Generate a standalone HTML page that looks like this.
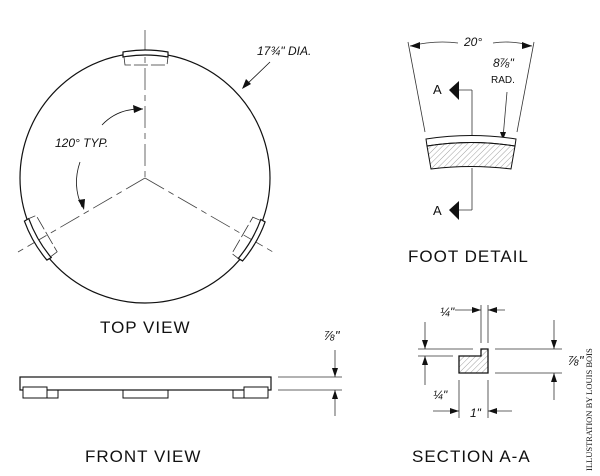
<!DOCTYPE html>
<html><head><style>
html,body{margin:0;padding:0;background:#fff;}
svg{display:block;}
text{font-family:"Liberation Sans",sans-serif;fill:#111;}
</style></head><body>
<svg width="600" height="476" viewBox="0 0 600 476" xmlns="http://www.w3.org/2000/svg">
<defs>
<pattern id="h" width="4" height="4" patternUnits="userSpaceOnUse" patternTransform="rotate(45)">
<line x1="0" y1="0" x2="0" y2="4" stroke="#888" stroke-width="0.8"/></pattern>
<g id="foot">
<path d="M123,52 Q145,48 168,52 L168,57 Q145,53 123,57 Z" fill="#fff" stroke="#111" stroke-width="1.2"/>
<path d="M124,57 L125,65 L167,65 L168,57" fill="none" stroke="#333" stroke-width="0.8" stroke-dasharray="14,3"/>
</g>
</defs>
<!-- Top view -->
<circle cx="145" cy="178" r="125" fill="none" stroke="#111" stroke-width="1.2"/>
<g stroke="#444" stroke-width="0.8" fill="none" stroke-dasharray="22,5,6,5">
<line x1="145" y1="30" x2="145" y2="178"/>
<line x1="145" y1="178" x2="18" y2="252"/>
<line x1="145" y1="178" x2="273" y2="252"/>
</g>
<use href="#foot"/>
<use href="#foot" transform="rotate(120 145 178)"/>
<use href="#foot" transform="rotate(-120 145 178)"/>
<path d="M102,125 Q118,108 143,109" fill="none" stroke="#111" stroke-width="0.8"/>
<polygon points="143,109 133,105 134,113" fill="#111"/>
<path d="M80,162 Q72,185 82,207" fill="none" stroke="#111" stroke-width="0.8"/>
<polygon points="84,210 78,200 85,199" fill="#111"/>
<text x="55" y="147" font-size="12" font-style="italic">120° TYP.</text>
<line x1="270" y1="62" x2="244" y2="87" stroke="#111" stroke-width="0.8"/>
<polygon points="242,89 246,79 251,84" fill="#111"/>
<text x="257" y="55" font-size="12" font-style="italic">17¾" DIA.</text>
<text x="100" y="333" font-size="17" letter-spacing="1">TOP VIEW</text>
<!-- Front view -->
<rect x="20" y="377" width="251" height="13" fill="none" stroke="#111" stroke-width="1.2"/>
<g fill="none" stroke="#111" stroke-width="1">
<rect x="23" y="387" width="24" height="11" fill="#fff"/><line x1="47" y1="387" x2="47" y2="398"/><rect x="47" y="390" width="11" height="8"/>
<rect x="244" y="387" width="24" height="11" fill="#fff"/><rect x="233" y="390" width="11" height="8"/>
<rect x="123" y="390" width="45" height="8"/>
</g>
<g stroke="#333" stroke-width="0.8">
<line x1="278" y1="377" x2="342" y2="377"/><line x1="278" y1="390" x2="342" y2="390"/>
<line x1="335" y1="350" x2="335" y2="377"/><line x1="335" y1="390" x2="335" y2="416"/>
</g>
<polygon points="335,377 332,368 338,368" fill="#111"/><polygon points="335,390 332,399 338,399" fill="#111"/>
<text x="324" y="340" font-size="13" font-style="italic">⅞"</text>
<text x="85" y="462" font-size="17" letter-spacing="1">FRONT VIEW</text>
<!-- Foot detail -->
<g stroke="#333" stroke-width="0.8" fill="none">
<line x1="408" y1="42" x2="425" y2="132"/><line x1="534" y1="42" x2="517" y2="132"/>
<path d="M410,46 Q435,40 458,43"/><path d="M493,43 Q512,40 532,46"/>
<line x1="472" y1="90" x2="472" y2="138"/><line x1="472" y1="168" x2="472" y2="210"/>
<line x1="454" y1="90" x2="472" y2="90"/><line x1="454" y1="210" x2="472" y2="210"/>
<line x1="507" y1="92" x2="503" y2="138"/>
</g>
<polygon points="410,46 420,42 420,49" fill="#111"/><polygon points="532,46 522,42 522,49" fill="#111"/>
<polygon points="449,90 459,81 459,100" fill="#111"/><polygon points="449,210 459,201 459,220" fill="#111"/>
<polygon points="503,140 500,132 506,132" fill="#111"/>
<path d="M426,139 Q471,132 516,139 L515,146 Q471,139 427,146 Z" fill="#fff" stroke="#111" stroke-width="1"/>
<path d="M427,146 Q471,139 515,146 L511,169 Q471,164 431,169 Z" fill="url(#h)" stroke="#111" stroke-width="1"/>
<text x="464" y="46" font-size="12" font-style="italic">20°</text>
<text x="433" y="94" font-size="13">A</text><text x="433" y="215" font-size="13">A</text>
<text x="493" y="67" font-size="12" font-style="italic">8⅞"</text>
<text x="491" y="83" font-size="10">RAD.</text>
<text x="408" y="262" font-size="17" letter-spacing="1">FOOT DETAIL</text>
<!-- Section A-A -->
<path d="M459,356 L481,356 L481,349 L488,349 L488,373 L459,373 Z" fill="url(#h)" stroke="#111" stroke-width="1.3"/>
<g stroke="#333" stroke-width="0.8">
<line x1="481" y1="305" x2="481" y2="343"/><line x1="488" y1="305" x2="488" y2="343"/>
<line x1="455" y1="310" x2="481" y2="310"/><line x1="488" y1="310" x2="505" y2="310"/>
<line x1="418" y1="349" x2="473" y2="349"/><line x1="418" y1="356" x2="453" y2="356"/>
<line x1="425" y1="322" x2="425" y2="349"/><line x1="425" y1="356" x2="425" y2="385"/>
<line x1="495" y1="349" x2="562" y2="349"/><line x1="495" y1="373" x2="562" y2="373"/>
<line x1="554" y1="320" x2="554" y2="349"/><line x1="554" y1="373" x2="554" y2="400"/>
<line x1="459" y1="380" x2="459" y2="418"/><line x1="488" y1="380" x2="488" y2="418"/>
<line x1="433" y1="411" x2="459" y2="411"/><line x1="488" y1="411" x2="512" y2="411"/>
</g>
<g fill="#111">
<polygon points="481,310 472,307 472,313"/><polygon points="488,310 497,307 497,313"/>
<polygon points="425,349 422,340 428,340"/><polygon points="425,356 422,365 428,365"/>
<polygon points="554,349 551,340 557,340"/><polygon points="554,373 551,382 557,382"/>
<polygon points="459,411 450,408 450,414"/><polygon points="488,411 497,408 497,414"/>
</g>
<text x="440" y="316" font-size="12" font-style="italic">¼"</text>
<text x="433" y="399" font-size="12" font-style="italic">¼"</text>
<text x="568" y="365" font-size="13" font-style="italic">⅞"</text>
<text x="470" y="417" font-size="12" font-style="italic">1"</text>
<text x="412" y="462" font-size="17" letter-spacing="1">SECTION A-A</text>
<text transform="translate(592,471) rotate(-90)" font-size="8.5" style="font-family:'Liberation Serif',serif">ILLUSTRATION BY LOUIS BOIS</text>
</svg>
</body></html>
